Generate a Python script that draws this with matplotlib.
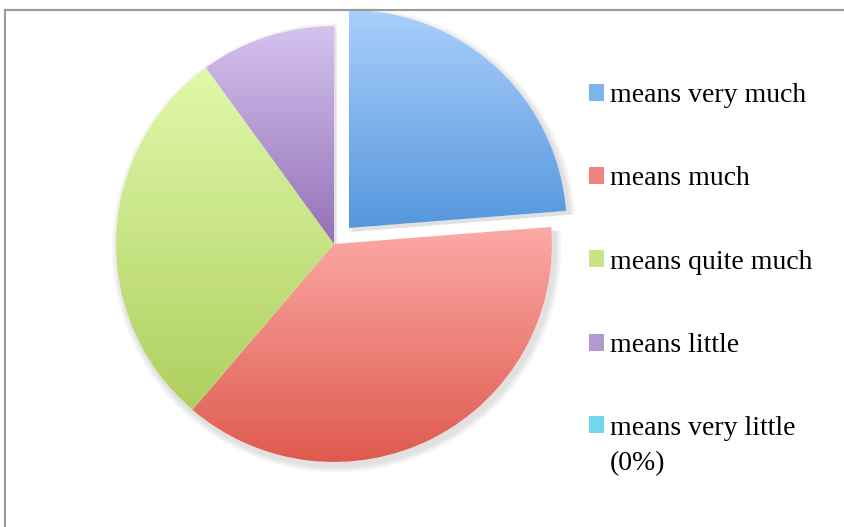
import numpy as np
import matplotlib
matplotlib.use('Agg')
from matplotlib import pyplot as plt
from matplotlib.colors import LinearSegmentedColormap
from matplotlib.patches import Patch, Rectangle

labels = ['means very much', 'means much', 'means quite much', 'means little',
          'means very little\n(0%)']
shares = [23.75, 37.5, 28.75, 10.0, 0.0]
explode = [0.1, 0, 0, 0, 0]

# light (top) -> dark (bottom) gradient for every slice
tops = ['#aacffc', '#fcaaa6', '#e0f9ab', '#d5c2ef', '#a6eefa']
bottoms = ['#5597dc', '#df5a4e', '#afcf5f', '#9371b6', '#3fc0e0']
mids = ['#7fb3ec', '#ef8480', '#c9e487', '#b399d2', '#72d7ee']

fig = plt.figure(figsize=(8.45, 5.27), dpi=100)
R = 250 / 218
ax = fig.add_axes([(334 - 250) / 845, (527 - 244 - 250) / 527, 500 / 845, 500 / 527])

# soft shadow under the slices
for r in [1.03, 1.02, 1.01]:
    ax.pie(shares, explode=explode, startangle=90, counterclock=False, radius=r,
           center=(0.012, -0.018), colors=['#000000'] * len(shares),
           wedgeprops=dict(linewidth=0, alpha=0.04))

wedges, _ = ax.pie(shares, explode=explode, startangle=90, counterclock=False,
                   colors=mids, wedgeprops=dict(linewidth=0))

grad = np.linspace(0, 1, 256).reshape(-1, 1)
for w, v, c0, c1 in zip(wedges, shares, tops, bottoms):
    if v == 0:
        continue
    w.set_facecolor('white')
    ext = w.get_path().get_extents()
    cmap = LinearSegmentedColormap.from_list('g', [c0, c1])
    im = ax.imshow(grad, cmap=cmap, aspect='auto', origin='upper',
                   extent=(ext.x0, ext.x1, ext.y0, ext.y1), zorder=3)
    im.set_clip_path(w)
ax.set_xlim(-R, R)
ax.set_ylim(-R, R)
ax.set_aspect('auto')
ax.axis('off')

handles = [Patch(facecolor=c, edgecolor='none') for c in mids]
leg = fig.legend(handles, labels, loc='upper left', bbox_to_anchor=(589 / 845, 1 - 83 / 527),
                 frameon=False, prop={'family': 'Liberation Serif', 'size': 20},
                 handlelength=0.55, handleheight=0.55, handletextpad=0.2,
                 labelspacing=2.1, borderpad=0, borderaxespad=0)
for t in leg.get_texts():
    t.set_linespacing(1.5)
# keep the square next to the first line of the two-line label
for col in leg._legend_handle_box.get_children():
    for item, lab in zip(col.get_children(), labels):
        if '\n' in lab:
            item.align = 'top'

fig.add_artist(Rectangle((5 / 845, -0.1), 1.2, 1 - 10 / 527 + 0.1,
                         transform=fig.transFigure, fill=False,
                         edgecolor='#9a9a9a', linewidth=1.5))

fig.savefig('out.png', dpi=100)
